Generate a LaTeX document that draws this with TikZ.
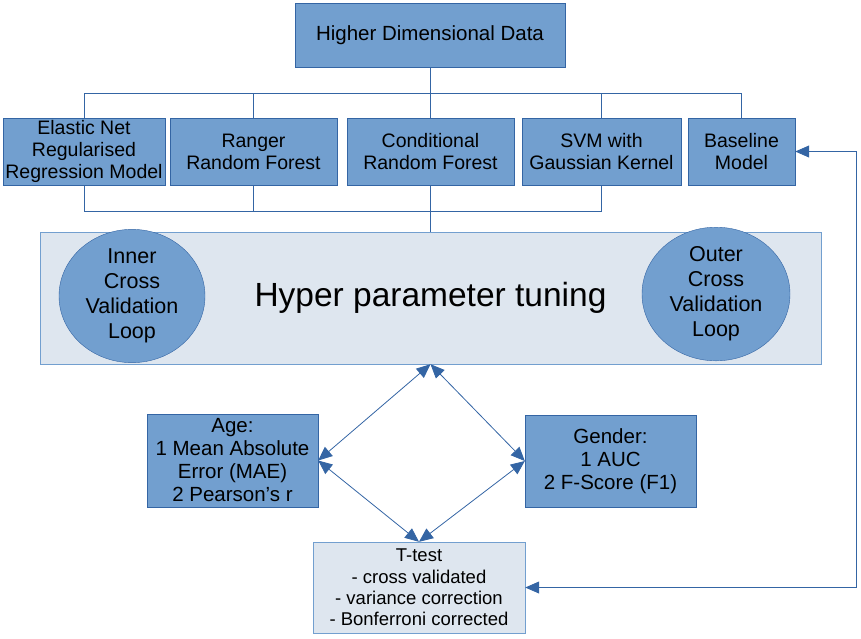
\documentclass[tikz,border=0pt]{standalone}
\usepackage{fontspec}
\setmainfont{Liberation Sans}
\usetikzlibrary{positioning,shapes,arrows.meta,calc}
\definecolor{boxblue}{HTML}{729FCF}
\definecolor{lineblue}{HTML}{3465A4}
\definecolor{paleblue}{HTML}{DEE6EF}
\tikzset{
  model/.style={draw=lineblue, fill=boxblue, inner sep=0pt, align=center, font=\fontsize{19.5}{22}\selectfont},
  metric/.style={model, font=\fontsize{20.5}{23}\selectfont},
  panel/.style={draw=boxblue, fill=paleblue, inner sep=0pt, align=center},
  loopell/.style={ellipse, draw=lineblue, fill=boxblue, inner sep=0pt, align=center, font=\fontsize{21.5}{25}\selectfont},
  link/.style={draw=lineblue, line width=0.8pt},
  both/.style={link, {Triangle[length=14pt,width=12pt]}-{Triangle[length=14pt,width=12pt]}},
}

\begin{document}
\begin{tikzpicture}[x=1pt, y=-1pt]
\useasboundingbox (0,0) rectangle (861,638);

% --- data and the five models ---
\node (data)    [metric, minimum width=270, minimum height=64] at (430,35) {Higher Dimensional Data};
\node (elastic) [model, minimum width=162, minimum height=67] at (84,151.5) {Elastic Net\\Regularised\\Regression Model};
\node (ranger)  [model, minimum width=167, minimum height=67] at (253.5,151.5) {Ranger\\Random Forest};
\node (cond)    [model, minimum width=167, minimum height=67] at (430.5,151.5) {Conditional\\Random Forest};
\node (svm)     [model, minimum width=159, minimum height=67] at (601.5,151.5) {SVM with\\Gaussian Kernel};
\node (base)    [model, minimum width=107, minimum height=67] at (741.5,151.5) {Baseline\\Model};

% --- tuning panel with the two loops ---
\node (tune)  [panel, minimum width=781, minimum height=132, font=\fontsize{33.5}{38}\selectfont] at (430.5,298) {Hyper parameter tuning};
\node (inner) [loopell, minimum width=146, minimum height=124] at (132,296) {Inner\\Cross\\Validation\\Loop};
\node (outer) [loopell, minimum width=148, minimum height=120] at (716,294) {Outer\\Cross\\Validation\\Loop};

% --- metrics and test ---
\node (age)    [metric, minimum width=171, minimum height=93] at (232.5,460.5) {Age:\\1 Mean Absolute\\Error (MAE)\\2 Pearson's r};
\node (gender) [metric, minimum width=171, minimum height=92] at (610.5,461) {Gender:\\1 AUC\\2 F-Score (F1)};
\node (ttest)  [panel, minimum width=212, minimum height=91, font=\fontsize{18.5}{21.3}\selectfont] at (419,587.5) {T-test\\- cross validated\\- variance correction\\- Bonferroni corrected};

% --- bus lines above and below the models ---
\coordinate (bus) at (0,93);
\coordinate (lowbus) at (0,211);
\draw[link] (data.south) -- (data.south |- bus);
\draw[link] (elastic.north |- bus) -- (base.north |- bus);
\foreach \m in {elastic,ranger,cond,svm,base}
  \draw[link] (\m.north) -- (\m.north |- bus);
\draw[link] (elastic.south |- lowbus) -- (svm.south |- lowbus);
\foreach \m in {elastic,ranger,svm}
  \draw[link] (\m.south) -- (\m.south |- lowbus);
\draw[link] (cond.south) -- (tune.north);

% --- double arrows ---
\draw[both] (tune.south) -- (age.east);
\draw[both] (tune.south) -- (gender.west);
\draw[both] (age.east) -- (ttest.north);
\draw[both] (gender.west) -- (ttest.north);

% baseline back to the test
\coordinate (rail) at (856,0);
\draw[both] (ttest.east) -- (ttest.east -| rail) -- (rail |- base.east) -- (base.east);

\end{tikzpicture}
\end{document}
